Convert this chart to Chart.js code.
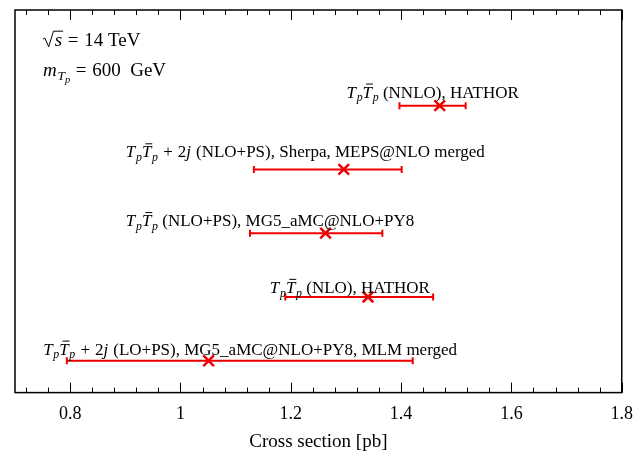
<!DOCTYPE html>
<html>
<head>
<meta charset="utf-8">
<script src="https://cdn.jsdelivr.net/npm/chart.js@4"></script>
<style>
html, body { margin: 0; padding: 0; background: #fff; }
#wrap { width: 644px; height: 455px; position: relative; }
</style>
</head>
<body>
<div id="wrap"><canvas id="xsecChart"></canvas></div>
<script>
// one row per calculation, top to bottom
const rowPositions = [4, 3, 2, 1, 0];
const centralValues = [1.470, 1.296, 1.263, 1.340, 1.051];
const lowerValues = [1.397, 1.133, 1.126, 1.190, 0.794];
const upperValues = [1.517, 1.401, 1.366, 1.458, 1.421];
const rowLabels = [
    '$T_p\\bar T_p$ (NNLO), HATHOR',
    '$T_p\\bar T_p + 2j$ (NLO+PS), Sherpa, MEPS@NLO merged',
    '$T_p\\bar T_p$ (NLO+PS), MG5_aMC@NLO+PY8',
    '$T_p\\bar T_p$ (NLO), HATHOR',
    '$T_p\\bar T_p + 2j$ (LO+PS), MG5_aMC@NLO+PY8, MLM merged'
];
const majorTicks = [0.8, 1, 1.2, 1.4, 1.6, 1.8];
const xTickLabels = ['0.8', '1', '1.2', '1.4', '1.6', '1.8'];
const infoLines = ['$\\sqrt s = 14$ TeV', '$m_{T_p} = 600$  GeV'];

const RED = '#ee0000';
const SERIF = '"Liberation Serif", "DejaVu Serif", serif';

// tiny markup: $...$ is math, letters italic, _x subscript, \bar X overline, \sqrt x
function parseMath(str, level, out) {
    let i = 0;
    while (i < str.length) {
        const ch = str[i];
        if (str.startsWith('\\bar ', i)) {
            i += 5;
            out.push({ t: str[i], it: true, lv: level, bar: true });
            i++;
        } else if (str.startsWith('\\sqrt ', i)) {
            i += 6;
            out.push({ t: str[i], it: true, lv: level, sqrt: true });
            i++;
        } else if (ch === '_') {
            i++;
            if (str[i] === '{') {
                let depth = 1, j = i + 1;
                while (j < str.length && depth > 0) {
                    if (str[j] === '{') depth++;
                    if (str[j] === '}') depth--;
                    j++;
                }
                parseMath(str.slice(i + 1, j - 1), level + 1, out);
                i = j;
            } else {
                out.push({ t: str[i], it: /[A-Za-z]/.test(str[i]), lv: level + 1 });
                i++;
            }
        } else if (ch === ' ') {
            out.push({ space: true, lv: level });
            i++;
        } else {
            out.push({ t: ch, it: /[A-Za-z]/.test(ch), lv: level });
            i++;
        }
    }
    return out;
}

function parseLabel(str) {
    const out = [];
    str.split('$').forEach((part, k) => {
        if (k % 2 === 1) parseMath(part, 0, out);
        else if (part) out.push({ t: part, it: false, lv: 0 });
    });
    return out;
}

function drawRich(ctx, str, x, y, size) {
    const tokens = parseLabel(str);
    ctx.save();
    ctx.fillStyle = '#000';
    ctx.strokeStyle = '#000';
    ctx.textBaseline = 'alphabetic';
    ctx.textAlign = 'left';
    for (const tk of tokens) {
        const f = tk.lv === 0 ? size : (tk.lv === 1 ? size * 0.7 : size * 0.55);
        const dy = tk.lv === 0 ? 0 : (tk.lv === 1 ? size * 0.22 : size * 0.36);
        if (tk.space) {
            x += 0.3 * f;
            continue;
        }
        ctx.font = (tk.it ? 'italic ' : '') + f + 'px ' + SERIF;
        const w = ctx.measureText(tk.t).width;
        if (tk.sqrt) {
            ctx.lineWidth = 1;
            ctx.beginPath();
            ctx.moveTo(x, y - 0.36 * f);
            ctx.lineTo(x + 0.1 * f, y - 0.42 * f);
            ctx.lineTo(x + 0.3 * f, y + 0.04 * f);
            ctx.lineTo(x + 0.55 * f, y - 0.78 * f);
            ctx.lineTo(x + 0.62 * f + w + 0.05 * f, y - 0.78 * f);
            ctx.stroke();
            x += 0.62 * f;
            ctx.fillText(tk.t, x, y + dy);
            x += w;
            continue;
        }
        ctx.fillText(tk.t, x, y + dy);
        if (tk.bar) {
            ctx.lineWidth = 1;
            ctx.beginPath();
            ctx.moveTo(x + 0.2 * f, y + dy - 0.8 * f);
            ctx.lineTo(x + w + 0.05 * f, y + dy - 0.8 * f);
            ctx.stroke();
        }
        x += w + (tk.it && tk.lv === 0 ? 0.04 * f : 0);
    }
    ctx.restore();
}

const frameAndText = {
    id: 'frameAndText',
    afterDraw(chart, args, opts) {
        const { ctx, chartArea: a, scales } = chart;
        const xs = scales.x, ys = scales.y;
        ctx.save();
        // inward ticks, top and bottom
        ctx.strokeStyle = '#000';
        ctx.lineWidth = 1;
        for (let k = 18; k <= 45; k++) {
            const px = Math.round(xs.getPixelForValue(k * 0.04)) + 0.5;
            const len = k % 5 === 0 ? 10 : 5;
            ctx.beginPath();
            ctx.moveTo(px, a.bottom);
            ctx.lineTo(px, a.bottom - len);
            ctx.moveTo(px, a.top);
            ctx.lineTo(px, a.top + len);
            ctx.stroke();
        }
        ctx.lineWidth = 1.5;
        ctx.strokeRect(a.left, a.top, a.right - a.left, a.bottom - a.top);
        ctx.restore();

        rowLabels.forEach((lab, i) => {
            const px = xs.getPixelForValue(opts.labelStarts[i]);
            const py = ys.getPixelForValue(rowPositions[i]) - opts.labelLift[i];
            drawRich(ctx, lab, px, py, opts.labelSize);
        });
        infoLines.forEach((line, i) => {
            drawRich(ctx, line, a.left + 28, a.top + 36 + i * 30, 19);
        });
    }
};

const datasets = rowPositions.map((y, i) => ({
    data: [{ x: lowerValues[i], y: y }, { x: upperValues[i], y: y }],
    showLine: true,
    borderColor: RED,
    borderWidth: 2,
    pointStyle: 'line',
    rotation: 90,
    pointRadius: 3.5,
    pointBorderWidth: 2,
    pointBorderColor: RED
}));
datasets.push({
    data: rowPositions.map((y, i) => ({ x: centralValues[i], y: y })),
    showLine: false,
    pointStyle: 'crossRot',
    pointRadius: 7.5,
    pointBorderWidth: 2.5,
    pointBorderColor: RED,
    borderColor: RED
});

new Chart(document.getElementById('xsecChart'), {
    type: 'scatter',
    data: { datasets: datasets },
    options: {
        responsive: true,
        maintainAspectRatio: false,
        animation: false,
        layout: { padding: { left: 15, right: 22, top: 10, bottom: 2 } },
        plugins: {
            legend: { display: false },
            tooltip: { enabled: false },
            frameAndText: {
                labelStarts: [1.301, 0.901, 0.901, 1.162, 0.751],
                labelLift: [8, 12, 7, 4, 6],
                labelSize: 17
            }
        },
        scales: {
            x: {
                type: 'linear',
                min: 0.7,
                max: 1.8,
                bounds: 'data',
                afterBuildTicks: (scale) => {
                    scale.ticks = majorTicks.map(v => ({ value: v }));
                },
                grid: { display: false, drawTicks: false },
                border: { display: false },
                ticks: {
                    autoSkip: false,
                    padding: 11,
                    color: '#000',
                    font: { family: SERIF, size: 18 },
                    maxRotation: 0,
                    callback: (v) => {
                        const k = majorTicks.findIndex(m => Math.abs(m - v) < 1e-6);
                        return k >= 0 ? xTickLabels[k] : '';
                    }
                },
                title: {
                    display: true,
                    text: 'Cross section [pb]',
                    color: '#000',
                    font: { family: SERIF, size: 19 },
                    padding: { top: -6, bottom: 0 }
                }
            },
            y: {
                type: 'linear',
                min: -0.5,
                max: 5.5,
                display: false
            }
        }
    },
    plugins: [frameAndText]
});
</script>
</body>
</html>
